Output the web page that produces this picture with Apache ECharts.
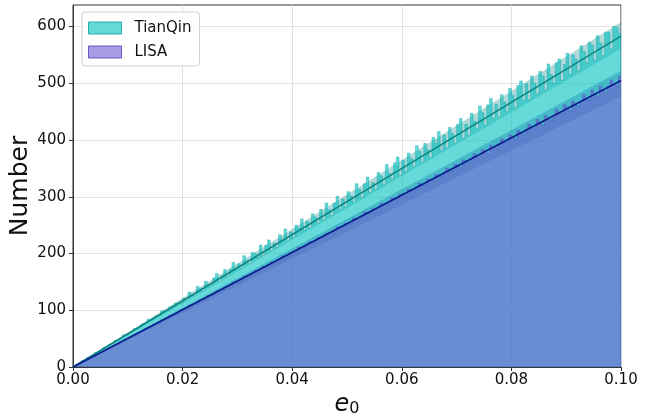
<!DOCTYPE html>
<html>
<head>
<meta charset="utf-8">
<script src="https://cdn.jsdelivr.net/npm/echarts@6/dist/echarts.min.js"></script>
<style>
  html, body { margin: 0; padding: 0; background: #fff; }
  #chart { width: 657px; height: 415px; }
</style>
</head>
<body>
<div id="chart"></div>
<script>

    // histogram bins: 200 bins of width 0.0005 on [0, 0.1]
    var binWidth = 0.0005;
    var xTicks = [0, 0.02, 0.04, 0.06, 0.08, 0.10];
    var yTicks = [0, 100, 200, 300, 400, 500, 600];

    var tianqinCounts = [
        1, 5, 7, 11, 13, 17, 19, 21, 26, 28,
        30, 35, 36, 40, 41, 47, 48, 50, 57, 56,
        60, 62, 68, 68, 70, 76, 77, 84, 82, 86,
        90, 91, 99, 97, 100, 106, 105, 113, 112, 114,
        121, 117, 132, 127, 126, 142, 138, 134, 151, 145,
        144, 157, 165, 151, 161, 172, 160, 172, 184, 171,
        182, 174, 196, 188, 182, 202, 199, 193, 215, 197,
        215, 224, 205, 218, 211, 233, 225, 243, 222, 238,
        228, 250, 244, 261, 241, 257, 245, 270, 264, 253,
        278, 259, 289, 277, 267, 289, 301, 278, 296, 282,
        309, 301, 291, 323, 313, 298, 323, 335, 308, 325,
        313, 343, 337, 321, 357, 341, 331, 360, 370, 338,
        364, 344, 377, 367, 353, 390, 380, 361, 394, 383,
        369, 405, 395, 415, 381, 409, 386, 422, 411, 395,
        428, 438, 403, 428, 409, 447, 433, 420, 460, 448,
        426, 462, 473, 439, 463, 440, 480, 467, 450, 491,
        479, 457, 496, 504, 470, 499, 471, 513, 500, 481,
        521, 513, 488, 534, 515, 500, 536, 543, 505, 533,
        553, 516, 550, 543, 522, 566, 556, 536, 572, 567,
        541, 584, 571, 549, 590, 590, 561, 600, 597, 588
    ];

    var lisaCounts = [
        1, 4, 6, 9, 11, 14, 16, 19, 21, 24,
        27, 29, 31, 34, 37, 39, 41, 45, 46, 49,
        52, 54, 56, 60, 61, 64, 68, 69, 71, 75,
        77, 78, 83, 84, 86, 91, 92, 94, 96, 101,
        102, 104, 109, 109, 111, 115, 119, 119, 121, 126,
        127, 129, 134, 135, 136, 141, 143, 144, 150, 150,
        152, 154, 160, 160, 161, 165, 170, 169, 172, 177,
        178, 179, 185, 185, 186, 191, 196, 195, 197, 202,
        203, 204, 211, 210, 211, 216, 221, 220, 222, 228,
        228, 229, 236, 235, 235, 241, 247, 245, 247, 253,
        254, 253, 262, 261, 260, 267, 273, 270, 272, 279,
        279, 278, 288, 286, 285, 292, 298, 295, 297, 305,
        304, 302, 313, 311, 310, 317, 324, 320, 322, 331,
        330, 327, 339, 336, 335, 342, 350, 345, 347, 357,
        355, 351, 365, 361, 359, 368, 376, 370, 372, 383,
        380, 376, 391, 387, 384, 393, 402, 396, 397, 409,
        405, 401, 417, 412, 409, 418, 428, 421, 422, 436,
        430, 426, 443, 437, 434, 443, 454, 447, 446, 462,
        456, 451, 469, 463, 459, 468, 480, 472, 470, 488,
        481, 476, 495, 488, 484, 494, 506, 497, 495, 512
    ];

    // fitted lines and spread bands, value at e0 = 0 and e0 = 0.1
    var fitX = [0, 0.1];
    var tianqinFit = [0, 583];
    var tianqinLow = [0, 561];
    var tianqinHigh = [0, 608];
    var lisaFit = [0, 505];
    var lisaLow = [0, 477];
    var lisaHigh = [0, 522];

    var FONT = 'DejaVu Sans';

    function histData(counts) {
        var d = [];
        for (var i = 0; i < counts.length; i++) {
            d.push([i * binWidth, counts[i]]);
        }
        d.push([counts.length * binWidth, counts[counts.length - 1]]);
        return d;
    }

    function pairs(xs, ys) {
        return xs.map(function (x, i) { return [x, ys[i]]; });
    }

    function hist(name, counts, fill, edge) {
        return {
            name: name,
            type: 'line',
            step: 'end',
            data: histData(counts),
            showSymbol: false,
            itemStyle: { color: fill },
            lineStyle: { color: edge, width: 0.6 },
            areaStyle: { color: fill, origin: 'start', opacity: 1 },
            silent: true
        };
    }

    // filled region between lo and hi, drawn through the axes
    function band(name, lo, hi, color) {
        return {
            name: name,
            type: 'custom',
            data: [[fitX[0], fitX[1], lo[0], lo[1], hi[0], hi[1]]],
            encode: { x: [0, 1], y: [2, 3, 4, 5] },
            silent: true,
            renderItem: function (params, api) {
                var pts = [
                    api.coord([api.value(0), api.value(2)]),
                    api.coord([api.value(1), api.value(3)]),
                    api.coord([api.value(1), api.value(5)]),
                    api.coord([api.value(0), api.value(4)])
                ];
                return { type: 'polygon', shape: { points: pts }, style: { fill: color } };
            }
        };
    }

    function fitLine(name, ys, color) {
        return {
            name: name,
            type: 'line',
            data: pairs(fitX, ys),
            showSymbol: false,
            lineStyle: { color: color, width: 1.5 },
            silent: true
        };
    }

    var series = [
        hist('TianQin', tianqinCounts, 'rgba(0,191,191,0.6)', 'rgba(0,160,160,0.6)'),
        hist('LISA', lisaCounts, 'rgba(106,90,205,0.6)', 'rgba(80,60,190,0.6)'),
        band('tqBand', tianqinLow, tianqinHigh, 'rgba(0,128,128,0.3)'),
        band('lisaBand', lisaLow, lisaHigh, 'rgba(0,0,128,0.3)'),
        fitLine('tqFit', tianqinFit, '#0b8582'),
        fitLine('lisaFit', lisaFit, '#0a1a8c')
    ];

    var chart = echarts.init(document.getElementById('chart'), null, { renderer: 'canvas' });

    var option = {
        animation: false,
        backgroundColor: '#ffffff',
        grid: {
            left: 73, right: 36, top: 5, bottom: 48,
            outerBoundsMode: 'none',
            containLabel: false,
            show: true,
            borderColor: '#333',
            borderWidth: 1,
            backgroundColor: 'transparent'
        },
        legend: {
            left: 82, top: 12,
            orient: 'vertical',
            padding: [8, 8, 6, 6],
            itemWidth: 33,
            itemHeight: 12,
            itemGap: 8,
            icon: 'rect',
            backgroundColor: 'rgba(255,255,255,0.85)',
            borderColor: '#d0d0d0',
            borderWidth: 1,
            borderRadius: 3,
            textStyle: { fontFamily: FONT, fontSize: 15, color: '#111', lineHeight: 16, padding: [0, 0, 0, 8] },
            data: [
                { name: 'TianQin', itemStyle: { color: 'rgba(0,191,191,0.6)', borderColor: 'rgba(0,160,160,0.8)', borderWidth: 1 } },
                { name: 'LISA', itemStyle: { color: 'rgba(106,90,205,0.6)', borderColor: 'rgba(80,60,190,0.8)', borderWidth: 1 } }
            ]
        },
        xAxis: {
            type: 'value',
            min: xTicks[0],
            max: xTicks[xTicks.length - 1],
            interval: 0.02,
            name: '{e|e}{s|0}',
            nameLocation: 'middle',
            nameGap: 22,
            nameTextStyle: {
                rich: {
                    e: { fontFamily: FONT, fontStyle: 'italic', fontSize: 24, color: '#111', lineHeight: 28, verticalAlign: 'bottom' },
                    s: { fontFamily: FONT, fontSize: 16, color: '#111', lineHeight: 20, verticalAlign: 'bottom' }
                }
            },
            axisLine: { show: true, lineStyle: { color: '#333', width: 1 } },
            axisTick: { show: true, inside: false, length: 4, lineStyle: { color: '#333' } },
            axisLabel: {
                fontFamily: FONT, fontSize: 15, color: '#111', margin: 6,
                formatter: function (v) { return v.toFixed(2); }
            },
            splitLine: { show: true, lineStyle: { color: '#dcdcdc', width: 0.8 } }
        },
        yAxis: {
            type: 'value',
            min: yTicks[0],
            max: 638,
            interval: 100,
            name: 'Number',
            nameLocation: 'middle',
            nameMoveOverlap: false,
            nameGap: 40,
            nameTextStyle: { fontFamily: FONT, fontSize: 25, color: '#111' },
            axisLine: { show: true, lineStyle: { color: '#333', width: 1 } },
            axisTick: { show: true, inside: false, length: 4, lineStyle: { color: '#333' }, customValues: yTicks },
            axisLabel: {
                fontFamily: FONT, fontSize: 15, color: '#111', margin: 7,
                customValues: yTicks,
                formatter: function (v) { return String(v); }
            },
            splitLine: { show: true, lineStyle: { color: '#dcdcdc', width: 0.8 } }
        },
        series: series
    };

    chart.setOption(option);

</script>
</body>
</html>
